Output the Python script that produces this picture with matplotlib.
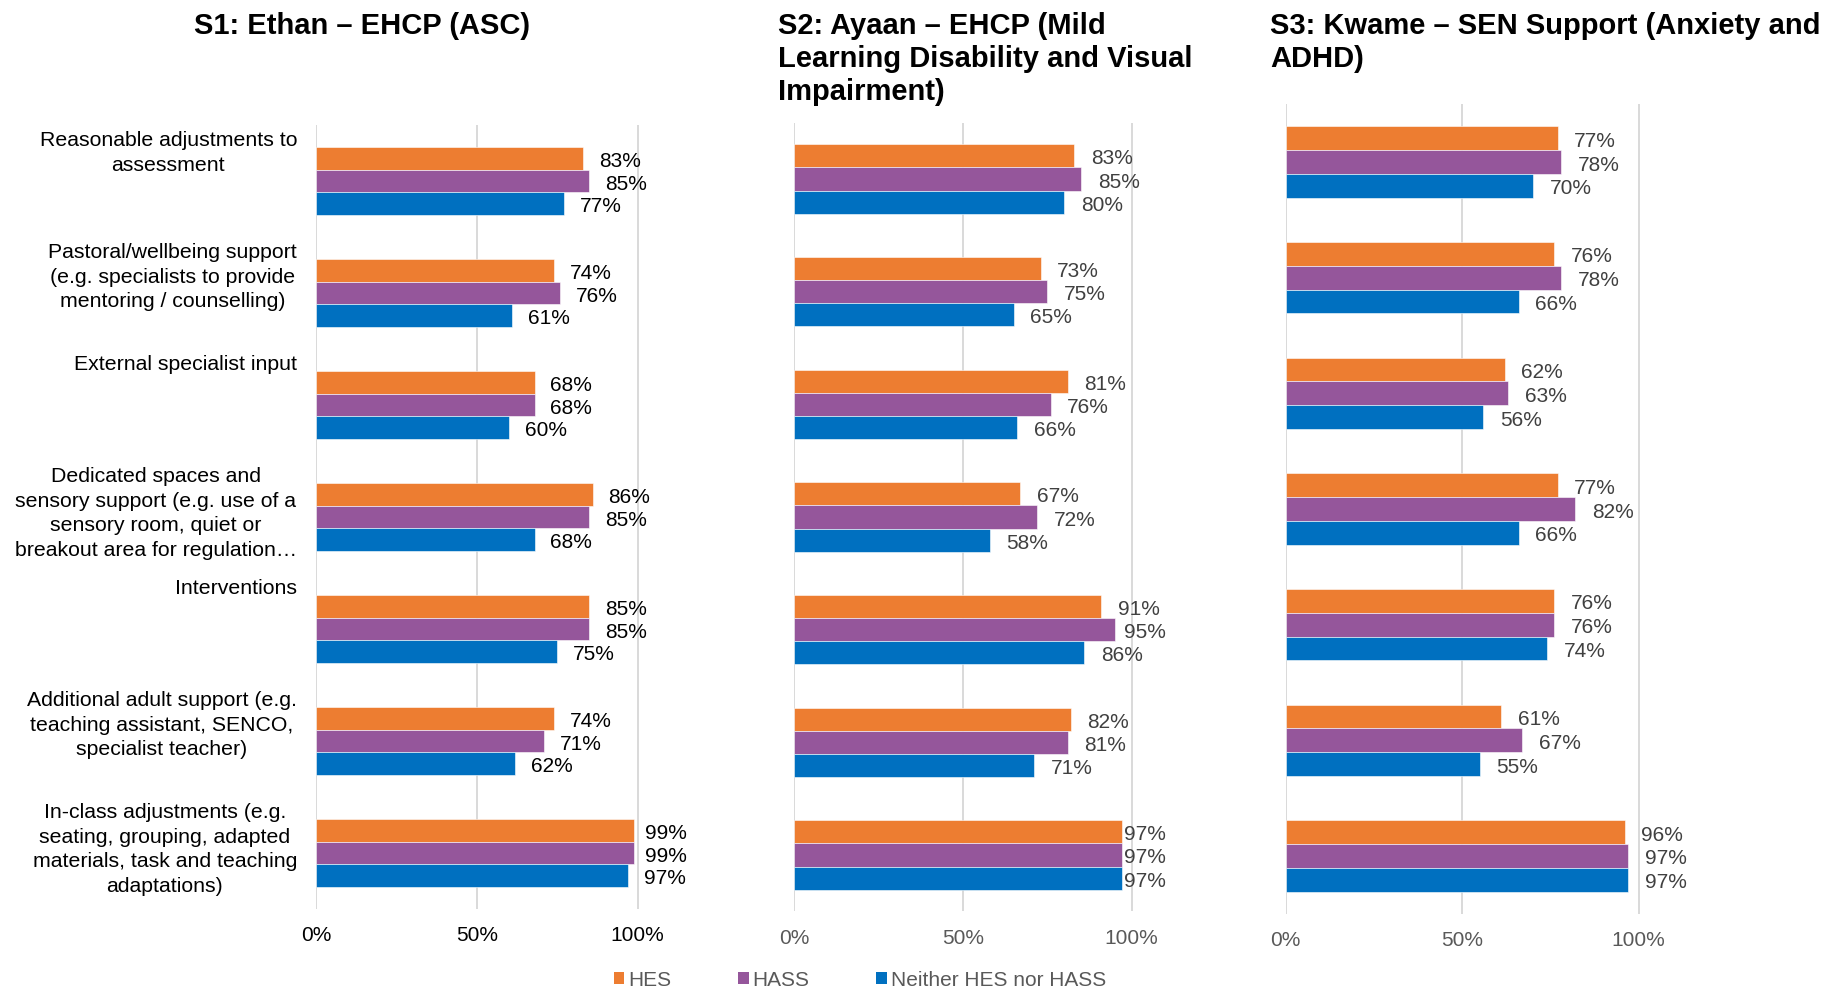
import matplotlib
matplotlib.use("Agg")
import matplotlib.pyplot as plt
from matplotlib.patches import Patch

plt.rcParams['font.family'] = ['Liberation Sans', 'DejaVu Sans']

categories = [
    "Reasonable adjustments to\nassessment",
    "Pastoral/wellbeing support\n(e.g. specialists to provide\nmentoring / counselling)",
    "External specialist input",
    "Dedicated spaces and\nsensory support (e.g. use of a\nsensory room, quiet or\nbreakout area for regulation…",
    "Interventions",
    "Additional adult support (e.g.\nteaching assistant, SENCO,\nspecialist teacher)",
    "In-class adjustments (e.g.\nseating, grouping, adapted\nmaterials, task and teaching\nadaptations)",
]
series_names = ["HES", "HASS", "Neither HES nor HASS"]
titles = [
    "S1: Ethan – EHCP (ASC)",
    "S2: Ayaan – EHCP (Mild\nLearning Disability and Visual\nImpairment)",
    "S3: Kwame – SEN Support (Anxiety and\nADHD)",
]
tick_values = [0, 0.5, 1.0]
tick_labels = ["0%", "50%", "100%"]

s1_hes = [83, 74, 68, 86, 85, 74, 99]
s1_hass = [85, 76, 68, 85, 85, 71, 99]
s1_neither = [77, 61, 60, 68, 75, 62, 97]

s2_hes = [83, 73, 81, 67, 91, 82, 97]
s2_hass = [85, 75, 76, 72, 95, 81, 97]
s2_neither = [80, 65, 66, 58, 86, 71, 97]

s3_hes = [77, 76, 62, 77, 76, 61, 96]
s3_hass = [78, 78, 63, 82, 76, 67, 97]
s3_neither = [70, 66, 56, 66, 74, 55, 97]

panels = [
    [s1_hes, s1_hass, s1_neither],
    [s2_hes, s2_hass, s2_neither],
    [s3_hes, s3_hass, s3_neither],
]

colors = ["#ED7D31", "#95569B", "#0070C0"]

W, H = 1840, 993
fig = plt.figure(figsize=(W / 100, H / 100), dpi=100)

# layout (pixels): x of 0%, px per 100%, top, bottom, label colour, tick colour, label clamp x
layout = [
    dict(x0=316, sc=321.7, top=125, bot=909, lc="#000000", tc="#000000", clamp=645, gap=15.7),
    dict(x0=794, sc=337.7, top=122.7, bot=911.3, lc="#404040", tc="#595959", clamp=1124, gap=16.7),
    dict(x0=1285.7, sc=353, top=104.2, bot=913.8, lc="#404040", tc="#595959", clamp=9999, gap=16.7),
]
title_x = [193.6, 778, 1270]

FS = 15
bw = 0.205
n = len(categories)
for p, (data, L) in enumerate(zip(panels, layout)):
    xmax = 1.1
    ax = fig.add_axes([L["x0"] / W, 1 - L["bot"] / H, xmax * L["sc"] / W, (L["bot"] - L["top"]) / H])
    for s, (vals, col) in enumerate(zip(data, colors)):
        ys = [i + (s - 1) * bw for i in range(n)]
        xs = [v / 100 for v in vals]
        ax.barh(ys, xs, height=bw, color=col, zorder=3, edgecolor="white", linewidth=0.4)
        gap = L["gap"] / L["sc"]
        clamp = (L["clamp"] - L["x0"]) / L["sc"]
        for y, x, v in zip(ys, xs, vals):
            ax.annotate(f"{v}%", xy=(min(x + gap, clamp), y), xytext=(0, -3),
                        textcoords="offset pixels", ha="left", va="center",
                        fontsize=FS, color=L["lc"], annotation_clip=False)
    ax.set_ylim(n - 0.5, -0.5)
    ax.set_xlim(0, xmax)
    ax.set_xticks(tick_values)
    ax.set_xticklabels(tick_labels, fontsize=FS, color=L["tc"])
    ax.tick_params(axis="x", length=0, pad=12.5)
    ax.set_yticks([])
    for sp in ax.spines.values():
        sp.set_visible(False)
    ax.grid(axis="x", color="#D9D9D9", linewidth=1.4, zorder=0)
    ax.set_axisbelow(True)
    if p == 0:
        for i, lab in enumerate(categories):
            ax.annotate(lab, xy=(0, i - 0.5), xytext=(-19, -6), textcoords="offset pixels",
                        ha="right", va="top", multialignment="center",
                        fontsize=15.3, color="#000000", linespacing=1.38,
                        annotation_clip=False)
    fig.text(title_x[p] / W, 1 - 11.5 / H, titles[p], ha="left", va="top",
             fontsize=21, fontweight="bold", color="#000000", linespacing=1.24)

handles = [Patch(facecolor=c, edgecolor="none") for c in colors]
leg = fig.legend(handles, series_names, loc="center", bbox_to_anchor=(860 / W, 1 - 980 / H),
                 ncol=3, frameon=False, fontsize=FS, handlelength=0.5, handleheight=0.5,
                 handletextpad=0.2, columnspacing=3.2, borderaxespad=0, borderpad=0)
for t in leg.get_texts():
    t.set_color("#595959")

fig.savefig("out.png", dpi=100)
